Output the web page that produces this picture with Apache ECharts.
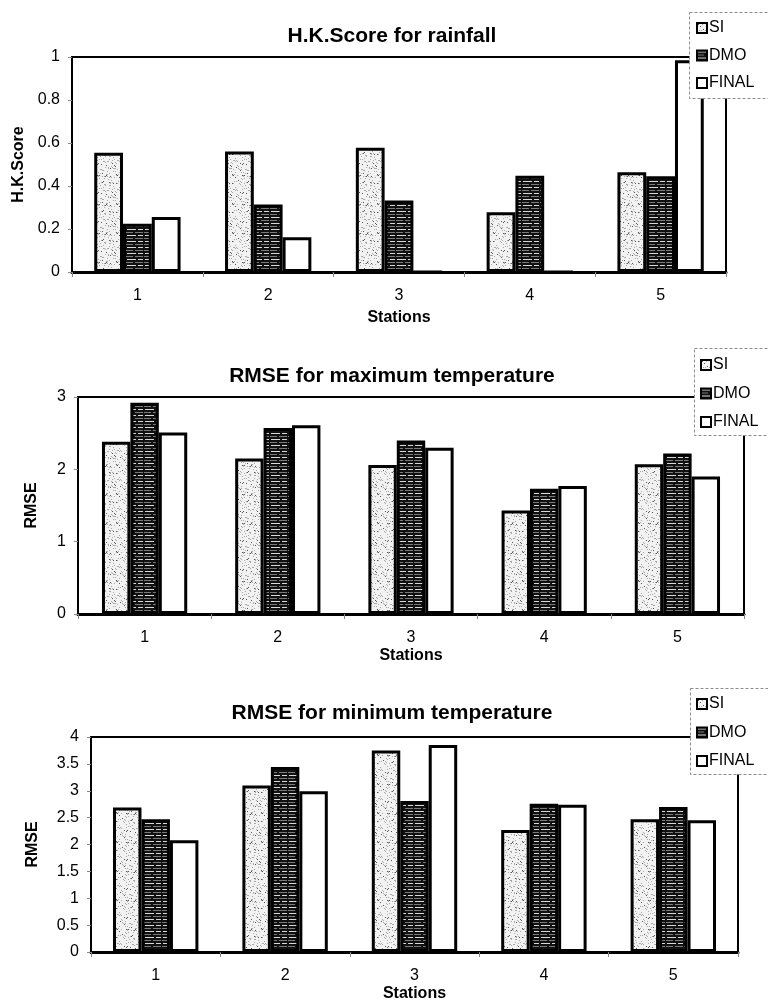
<!DOCTYPE html>
<html><head><meta charset="utf-8">
<script src="https://cdn.jsdelivr.net/npm/echarts@6/dist/echarts.min.js"></script>
<style>html,body{margin:0;padding:0;background:#fff}#c{width:768px;height:1003px}</style>
</head><body><div id="c"></div>
<script>
const stations = ['1','2','3','4','5'];
const seriesNames = ['SI','DMO','FINAL'];

const titles = ['H.K.Score for rainfall','RMSE for maximum temperature','RMSE for minimum temperature'];
const yNames = ['H.K.Score','RMSE','RMSE'];
const xName = 'Stations';

// H.K.Score for rainfall
const rainSI    = [0.555, 0.56, 0.578, 0.278, 0.464];
const rainDMO   = [0.224, 0.314, 0.332, 0.448, 0.445];
const rainFINAL = [0.256, 0.162, 0, 0, 0.985];

// RMSE for maximum temperature
const tmaxSI    = [2.38, 2.15, 2.06, 1.43, 2.07];
const tmaxDMO   = [2.92, 2.57, 2.40, 1.73, 2.22];
const tmaxFINAL = [2.51, 2.61, 2.30, 1.77, 1.90];

// RMSE for minimum temperature
const tminSI    = [2.69, 3.10, 3.75, 2.27, 2.47];
const tminDMO   = [2.47, 3.44, 2.81, 2.76, 2.70];
const tminFINAL = [2.08, 2.99, 3.85, 2.74, 2.45];

const yTicks = [[0,1,0.2],[0,3,1],[0,4,0.5]];

// textures
function siPattern(){
  const c=document.createElement('canvas'); c.width=c.height=29;
  const g=c.getContext('2d'); g.fillStyle='#f2f2f2'; g.fillRect(0,0,29,29);
  for(let i=0;i<120;i++){
    const x=(i*37+ (i*i)%11)%29, y=(i*53+(i*i*3)%13)%29;
    g.fillStyle = (i%4===0)?'#555':'#a8a8a8';
    g.fillRect(x,y,1,1);
  }
  return c;
}
function dmoPattern(){
  const c=document.createElement('canvas'); c.width=18; c.height=6;
  const g=c.getContext('2d'); g.fillStyle='#111'; g.fillRect(0,0,18,6);
  g.fillStyle='#d8d8d8'; g.fillRect(1,1,9,1); g.fillRect(12,1,5,1);
  g.fillStyle='#7a7a7a'; g.fillRect(0,4,7,1); g.fillRect(9,4,8,1);
  return c;
}
const SIfill = {image: siPattern(), repeat:'repeat'};
const DMOfill = {image: dmoPattern(), repeat:'repeat'};
const fills = [SIfill, DMOfill, '#ffffff'];

const FONT = "'Liberation Sans', Arial, sans-serif";

const grids = [
  {left:72, right:42, top:57, bottom:731},
  {left:78, right:24, top:397, bottom:389},
  {left:91, right:30, top:737, bottom:51}
];
const yNameGaps = [45, 38, 50];
const xNameGaps = [38, 34, 34];
const cats = ['34%','36%','34%'];
const data = [[rainSI,rainDMO,rainFINAL],[tmaxSI,tmaxDMO,tmaxFINAL],[tminSI,tminDMO,tminFINAL]];
const legendPos = [{left:690, top:14, gap:11.5},{left:694, top:351, gap:12.5},{left:690, top:690, gap:12.5}];
const legendBox = [{x:689, y:12, h:86},{x:694, y:348, h:87},{x:690, y:688, h:86}];
const titleY = [36, 376, 713];

const graphics = titles.map((t,i)=>({type:'text', x:392, y:titleY[i], z:10,
    style:{text:t, textAlign:'center', textVerticalAlign:'middle', font:"bold 21px 'Liberation Sans', Arial, sans-serif", fill:'#000'}}));
legendBox.forEach(b=>graphics.push({type:'rect', z:15, shape:{x:b.x+0.5, y:b.y+0.5, width:100, height:b.h},
    style:{fill:'#fff', stroke:'#8c8c8c', lineWidth:1, lineDash:[3,2]}}));

const option = {
  animation:false,
  backgroundColor:'#fff',
  textStyle:{fontFamily:FONT},
  grid: grids.map(g=>Object.assign({show:true, borderColor:'#000', borderWidth:2, backgroundColor:'transparent', containLabel:false}, g)),
  graphic: graphics,
  legend: legendPos.map(p=>({
    data: seriesNames, orient:'vertical', left:p.left, top:p.top,
    itemWidth:10, itemHeight:10, itemGap:p.gap, selectedMode:false,
    padding:[6,6,6,6], backgroundColor:'transparent', borderWidth:0,
    icon:'rect', itemStyle:{borderColor:'#000', borderWidth:2},
    textStyle:{fontSize:16, color:'#000', fontFamily:FONT, padding:[0,0,0,-3]}, z:20
  })),
  xAxis: grids.map((g,i)=>({
    type:'category', gridIndex:i, data:stations,
    name:xName, nameLocation:'middle', nameGap:xNameGaps[i],
    nameTextStyle:{fontWeight:'bold', fontSize:16, color:'#000', fontFamily:FONT},
    axisLine:{lineStyle:{color:'#000', width:3}},
    axisTick:{show:true, alignWithLabel:false, length:5, lineStyle:{color:'#888', width:1}},
    axisLabel:{fontSize:16, color:'#000', margin:16, fontFamily:FONT}
  })),
  yAxis: grids.map((g,i)=>({
    type:'value', gridIndex:i, min:yTicks[i][0], max:yTicks[i][1], interval:yTicks[i][2],
    name:yNames[i], nameLocation:'middle', nameGap:yNameGaps[i], nameRotate:90,
    nameTextStyle:{fontWeight:'bold', fontSize:16, color:'#000', fontFamily:FONT},
    axisLine:{show:true, lineStyle:{color:'#000', width:2}},
    axisTick:{show:true, length:4, lineStyle:{color:'#888'}},
    splitLine:{show:false},
    axisLabel:{fontSize:16, color:'#000', margin:12, fontFamily:FONT}
  })),
  series: []
};
data.forEach((set,gi)=>{
  set.forEach((vals,si)=>{
    option.series.push({
      type:'bar', name:seriesNames[si], xAxisIndex:gi, yAxisIndex:gi,
      data:vals, barGap:'0%', barCategoryGap:cats[gi],
      itemStyle:{color:fills[si], borderColor:'#000', borderWidth:3},
      emphasis:{disabled:true}
    });
  });
});
const chart = echarts.init(document.getElementById('c'), null, {renderer:'canvas'});
chart.setOption(option);
</script></body></html>
